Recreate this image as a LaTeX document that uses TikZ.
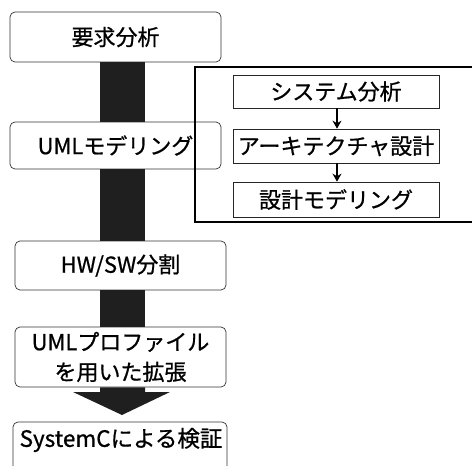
\documentclass[tikz,border=0pt]{standalone}
\usepackage{fontspec}
\setmainfont{Noto Sans CJK JP}
\newfontfamily\jpfont[FakeBold=0.8]{Noto Sans CJK JP}
\usetikzlibrary{arrows.meta}
\tikzset{
  mainbox/.style={draw=black!80, line width=0.7pt, rounded corners=5pt, fill=white, minimum width=211pt, inner sep=0pt, font=\jpfont\fontsize{22}{30}\selectfont, align=center},
  subbox/.style={draw=black!85, line width=0.7pt, fill=white, minimum width=206pt, inner sep=0pt, font=\jpfont\fontsize{22}{26}\selectfont},
  bar/.style={fill=black!88},
  frame/.style={draw=black, line width=2.4pt},
  subarrow/.style={draw=black, line width=1.6pt, -{Stealth[length=8pt,width=9pt]}},
  txt/.style={inner sep=0pt, font=\jpfont\fontsize{22.5}{26}\selectfont}
}
\begin{document}
\begin{tikzpicture}[x=1pt,y=-1pt]
\clip (0,0) rectangle (472,466);
\fill[white] (0,0) rectangle (472,466);
\coordinate (barL) at (100,0);
\coordinate (barR) at (145,0);
% main boxes
\node[mainbox, minimum height=50pt] (b1) at (115.5,37) {要求分析};
\node[mainbox, minimum height=47pt] (b2) at (115.5,145.5) {UMLモデリング};
\node[mainbox, minimum height=49pt] (b3) at (120.5,265.5) {HW/SW分割};
\node[mainbox, minimum height=60pt] (b4) at (120.5,357) {UMLプロファイル\\を用いた拡張};
\node[mainbox, minimum width=214pt, minimum height=58pt] (b5) at (120,451) {};
\node[txt] (b5t) at (121,440) {SystemCによる検証};
% bars
\fill[bar] (barL |- b1.south) rectangle (barR |- b2.north);
\fill[bar] (barL |- b2.south) rectangle (barR |- b3.north);
\fill[bar] (barL |- b3.south) rectangle (barR |- b4.north);
\coordinate (tip) at (122,415);
\fill[bar] (barL |- b4.south) -- (100,392) -- (73,392) -- (tip) -- (170,392) -- (145,392) -- (barR |- b4.south) -- cycle;
% frame
\draw[frame] (480,67) -- (195,67) -- (195,222) -- (480,222);
% sub boxes
\node[subbox, minimum height=33pt] (s1) at (336,91.5) {システム分析};
\node[subbox, minimum height=34pt] (s2) at (336,146) {アーキテクチャ設計};
\node[subbox, minimum height=35pt] (s3) at (336,199.5) {設計モデリング};
\draw[subarrow] (s1.south -| 337,0) -- (s2.north -| 337,0);
\draw[subarrow] (s2.south -| 337,0) -- (s3.north -| 337,0);
\end{tikzpicture}
\end{document}
